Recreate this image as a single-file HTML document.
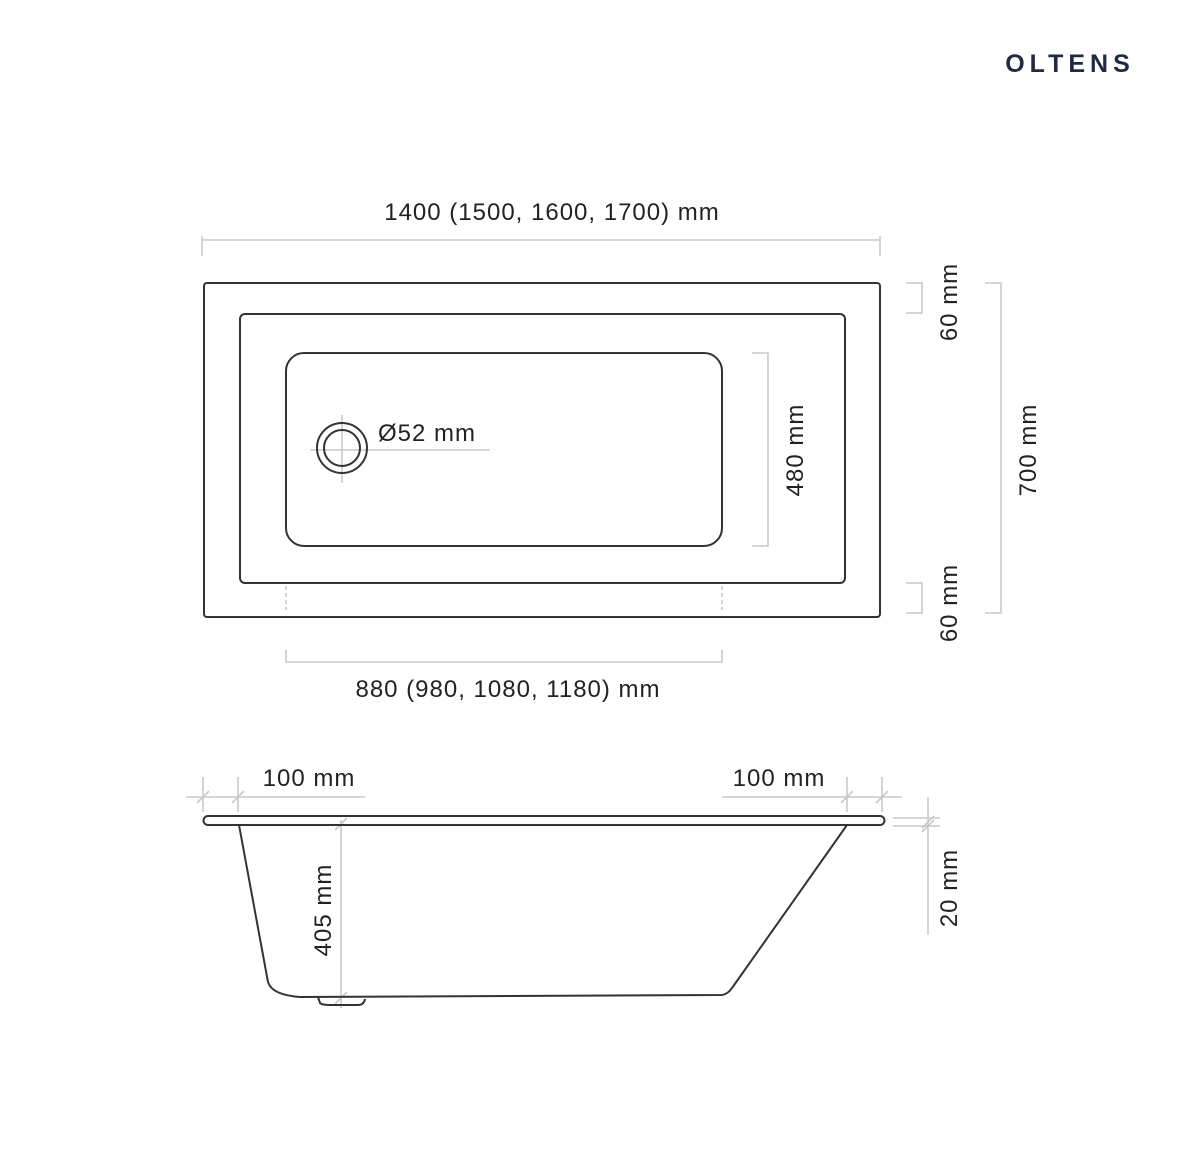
<!DOCTYPE html>
<html><head><meta charset="utf-8"><style>
html,body{margin:0;padding:0;background:#fff;}
svg{display:block}
text{font-family:"Liberation Sans",sans-serif;fill:#222;font-size:24px;letter-spacing:1px}
</style></head><body>
<svg width="1200" height="1176" viewBox="0 0 1200 1176">
<text x="1070" y="72" text-anchor="middle" style="font-size:25px;font-weight:bold;fill:#1f2a44;letter-spacing:5px">OLTENS</text>
<g fill="none" stroke="#c9c9c9" stroke-width="1.6">
<path d="M202 236V256M880 236V256M202 240H880"/>
<path d="M286 650V662H722V650"/>
<path d="M286 586V610M722 586V610" stroke-dasharray="4 3"/>
<path d="M752 353H768V546H752"/>
<path d="M906 283H922V313H906"/>
<path d="M906 583H922V613H906"/>
<path d="M985 283H1001V613H985"/>
<path d="M310 450H490M342 415V483"/>
<path d="M186 797H365M203 777V812M238 777V812M197 803L209 791M232 803L244 791"/>
<path d="M722 797H902M847 777V812M882 777V812M841 803L853 791M876 803L888 791"/>
<path d="M893 818H940M893 826H940M928 797V935M922 828L934 816M922 832L934 820"/>
<path d="M341 820V1008M335 830L347 818M335 1004L347 992"/>
</g>
<g fill="none" stroke="#333" stroke-width="2">
<rect x="204" y="283" width="676" height="334" rx="3"/>
<rect x="240" y="314" width="605" height="269" rx="5"/>
<rect x="286" y="353" width="436" height="193" rx="18"/>
<circle cx="342" cy="448" r="25"/>
<circle cx="342" cy="448" r="18"/>
<path d="M208 816H880A4.5 4.5 0 0 1 880 825H208A4.5 4.5 0 0 1 208 816Z"/>
<path d="M239 825L268 982Q272 995 300 997L722 995Q728 994 732 988L847 825"/>
<path d="M318 997L320 1003Q322 1005 330 1005H358Q364 1005 365 999"/>
</g>
<text x="552" y="220" text-anchor="middle">1400 (1500, 1600, 1700) mm</text>
<text x="508" y="697" text-anchor="middle">880 (980, 1080, 1180) mm</text>
<text x="378" y="441">Ø52 mm</text>
<text transform="translate(803 450) rotate(-90)" text-anchor="middle">480 mm</text>
<text transform="translate(957 302) rotate(-90)" text-anchor="middle">60 mm</text>
<text transform="translate(957 603) rotate(-90)" text-anchor="middle">60 mm</text>
<text transform="translate(1036 450) rotate(-90)" text-anchor="middle">700 mm</text>
<text x="309" y="786" text-anchor="middle">100 mm</text>
<text x="779" y="786" text-anchor="middle">100 mm</text>
<text transform="translate(957 888) rotate(-90)" text-anchor="middle">20 mm</text>
<text transform="translate(331 910) rotate(-90)" text-anchor="middle">405 mm</text>
</svg>
</body></html>
